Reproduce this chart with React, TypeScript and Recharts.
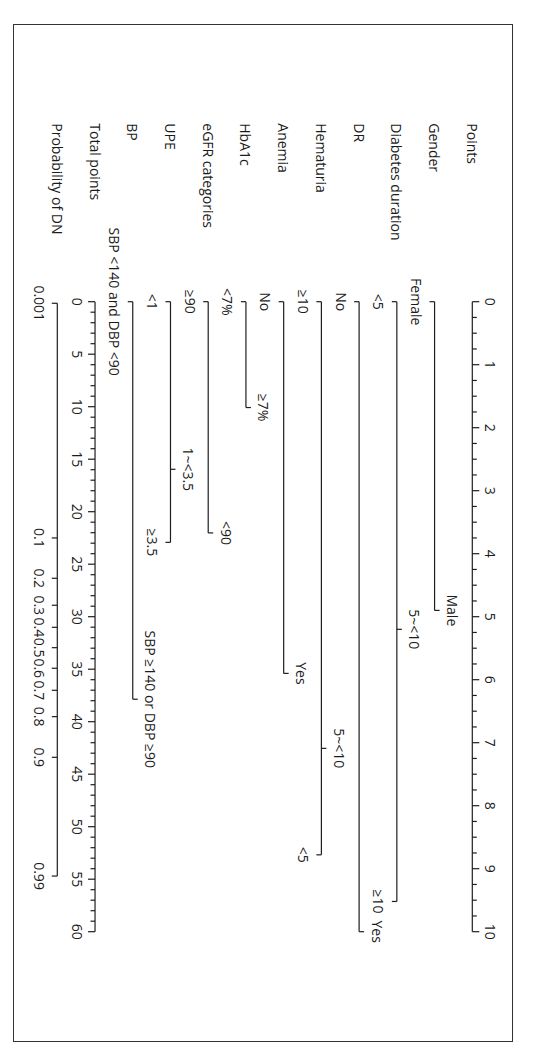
import React from 'react';
import { ComposedChart, Scatter, XAxis, YAxis } from 'recharts';

// ---------- data ----------
const ROW_NAMES = [
  'Points',
  'Gender',
  'Diabetes duration',
  'DR',
  'Hematuria',
  'Anemia',
  'HbA1c',
  'eGFR categories',
  'UPE',
  'BP',
  'Total points',
  'Probability of DN',
];

const POINTS_MAJOR = [0, 1, 2, 3, 4, 5, 6, 7, 8, 9, 10];
const POINTS_MINOR_PER_UNIT = 4;
const TOTAL_MAJOR = [0, 5, 10, 15, 20, 25, 30, 35, 40, 45, 50, 55, 60];
const TOTAL_MINOR_PER_UNIT = 5;

const GENDER_LABELS = ['Female', 'Male'];
const GENDER_POINTS = [0, 4.9];

const DURATION_LABELS = ['<5', '5~<10', '≥10'];
const DURATION_POINTS = [0, 5.2, 9.52];

const DR_LABELS = ['No', 'Yes'];
const DR_POINTS = [0, 10];

const HEMATURIA_LABELS = ['≥10', '5~<10', '<5'];
const HEMATURIA_POINTS = [0, 7.09, 8.78];

const ANEMIA_LABELS = ['No', 'Yes'];
const ANEMIA_POINTS = [0, 5.9];

const HBA1C_LABELS = ['<7%', '≥7%'];
const HBA1C_POINTS = [0, 1.68];

const EGFR_LABELS = ['≥90', '<90'];
const EGFR_POINTS = [0, 3.67];

const UPE_LABELS = ['<1', '1~<3.5', '≥3.5'];
const UPE_POINTS = [0, 2.66, 3.82];

const BP_LABELS = ['SBP <140 and DBP <90', 'SBP ≥140 or DBP ≥90'];
const BP_POINTS = [0, 6.31];

const PROB_LABELS = ['0.001', '0.1', '0.2', '0.3', '0.4', '0.5', '0.6', '0.7', '0.8', '0.9', '0.99'];
const PROB_TOTAL_POINTS = [0.15, 22.5, 26.34, 28.91, 31.01, 32.95, 34.91, 37.01, 39.52, 43.39, 54.7];

// ---------- layout ----------
const W = 1058;
const H = 541;
const LABEL_AXIS_WIDTH = 178.4;
const FONT = '"Open Sans", "DejaVu Sans", sans-serif';
const FONT_SIZE = 14;
const TEXT_COLOR = '#1b1b1b';
const LINE_COLOR = '#1e1e1e';
const LABEL_GAP = 18;

type Tick = { x: number; y: number; label?: string; side: number; len: number };

const majorMinor = (
  row: number,
  majors: number[],
  perUnit: number,
  step: number,
  side: number
): Tick[] => {
  const out: Tick[] = [];
  const first = majors[0];
  const last = majors[majors.length - 1];
  const n = Math.round(((last - first) / step) * perUnit);
  for (let i = 0; i <= n; i++) {
    const v = first + (i * step) / perUnit;
    const isMajor = i % perUnit === 0;
    out.push({
      x: v,
      y: row,
      label: isMajor ? String(majors[i / perUnit]) : undefined,
      side,
      len: isMajor ? 7 : 4.5,
    });
  }
  return out;
};

const variableTicks = (row: number, labels: string[], points: number[]): Tick[] =>
  labels.map((label, i) => ({
    x: points[i],
    y: row,
    label,
    side: i % 2 === 0 ? 1 : -1,
    len: 5,
  }));

const pointsTicks = majorMinor(0, POINTS_MAJOR, POINTS_MINOR_PER_UNIT, 1, -1);
const totalTicks = majorMinor(10, TOTAL_MAJOR, TOTAL_MINOR_PER_UNIT, 5, 1);
const probTicks: Tick[] = PROB_LABELS.map((label, i) => ({
  x: PROB_TOTAL_POINTS[i],
  y: 11,
  label,
  side: 1,
  len: 5.5,
}));

const variableRows: Tick[][] = [
  variableTicks(1, GENDER_LABELS, GENDER_POINTS),
  variableTicks(2, DURATION_LABELS, DURATION_POINTS),
  variableTicks(3, DR_LABELS, DR_POINTS),
  variableTicks(4, HEMATURIA_LABELS, HEMATURIA_POINTS),
  variableTicks(5, ANEMIA_LABELS, ANEMIA_POINTS),
  variableTicks(6, HBA1C_LABELS, HBA1C_POINTS),
  variableTicks(7, EGFR_LABELS, EGFR_POINTS),
  variableTicks(8, UPE_LABELS, UPE_POINTS),
  variableTicks(9, BP_LABELS, BP_POINTS),
];

const TickShape = (props: any) => {
  const { cx, cy, payload } = props;
  if (cx == null || cy == null || !payload) return <g />;
  const dir = payload.side;
  return (
    <g>
      <line
        x1={cx}
        y1={cy}
        x2={cx}
        y2={cy + dir * payload.len}
        stroke={LINE_COLOR}
        strokeWidth={1.2}
      />
      {payload.label ? (
        <text
          x={cx}
          y={cy + dir * LABEL_GAP}
          textAnchor="middle"
          dominantBaseline="central"
          fontFamily={FONT}
          fontSize={FONT_SIZE}
          fill={TEXT_COLOR}
        >
          {payload.label}
        </text>
      ) : null}
    </g>
  );
};

const RowLabel = (props: any) => {
  const { x, y, payload } = props;
  return (
    <text
      x={x - LABEL_AXIS_WIDTH}
      y={y}
      textAnchor="start"
      dominantBaseline="central"
      fontFamily={FONT}
      fontSize={FONT_SIZE}
      fill={TEXT_COLOR}
    >
      {ROW_NAMES[payload.value]}
    </text>
  );
};

const lineStyle = { stroke: LINE_COLOR, strokeWidth: 1.2 };

export default function App() {
  return (
    <div
      style={{
        position: 'absolute',
        left: 0,
        top: 0,
        width: W,
        height: H,
        transformOrigin: '0 0',
        transform: `translate(${H}px, 0px) rotate(90deg)`,
        background: '#fff',
      }}
    >
      <div
        style={{
          position: 'absolute',
          left: 24,
          top: 27.7,
          width: 1018,
          height: 500,
          border: '1.3px solid #333',
          boxSizing: 'border-box',
        }}
      />
      <div style={{ position: 'absolute', left: 0, top: 0 }}>
        <ComposedChart
          width={W}
          height={H}
          margin={{ top: 68.7, right: 126.3, bottom: 57.3, left: 123.3 }}
        >
          <XAxis xAxisId="pts" type="number" dataKey="x" domain={[0, 10]} hide />
          <XAxis xAxisId="tp" type="number" dataKey="x" domain={[0, 60]} hide />
          <YAxis
            type="number"
            dataKey="y"
            domain={[0, 11]}
            ticks={ROW_NAMES.map((_, i) => i)}
            reversed
            interval={0}
            width={LABEL_AXIS_WIDTH}
            tickSize={0}
            tickMargin={0}
            axisLine={false}
            tickLine={false}
            tick={<RowLabel />}
          />
          <Scatter
            xAxisId="pts"
            data={pointsTicks}
            shape={<TickShape />}
            line={lineStyle}
            lineType="joint"
            isAnimationActive={false}
          />
          {variableRows.map((rowData, i) => (
            <Scatter
              key={i}
              xAxisId="pts"
              data={rowData}
              shape={<TickShape />}
              line={lineStyle}
              lineType="joint"
              isAnimationActive={false}
            />
          ))}
          <Scatter
            xAxisId="tp"
            data={totalTicks}
            shape={<TickShape />}
            line={lineStyle}
            lineType="joint"
            isAnimationActive={false}
          />
          <Scatter
            xAxisId="tp"
            data={probTicks}
            shape={<TickShape />}
            line={lineStyle}
            lineType="joint"
            isAnimationActive={false}
          />
        </ComposedChart>
      </div>
    </div>
  );
}
